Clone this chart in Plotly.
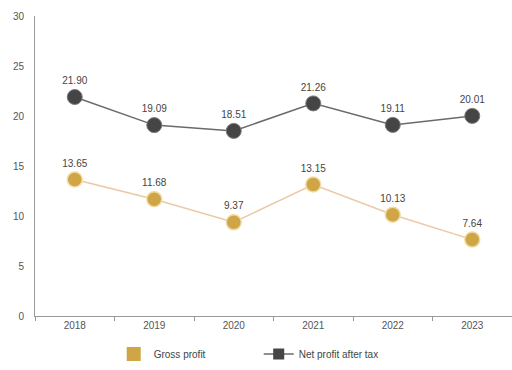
import plotly.graph_objects as go

years = ["2018", "2019", "2020", "2021", "2022", "2023"]
gross_profit = [13.65, 11.68, 9.37, 13.15, 10.13, 7.64]
net_profit_after_tax = [21.90, 19.09, 18.51, 21.26, 19.11, 20.01]

gold = "#CFA545"
gold_line = "#EBC9A6"
dark = "#454545"
dark_line = "#6A6A6A"
label_font = dict(family="Liberation Sans, Arial, sans-serif", size=10, color="#444444")

fig = go.Figure()

fig.add_trace(go.Scatter(
    x=years, y=gross_profit, mode="lines+markers+text",
    line=dict(color=gold_line, width=1.5),
    marker=dict(color=gold, size=15, line=dict(color="#F0DCA8", width=1.5)),
    text=[f"{v:.2f}" for v in gross_profit], textposition="top center",
    textfont=label_font, showlegend=False, cliponaxis=False,
))
fig.add_trace(go.Scatter(
    x=years, y=net_profit_after_tax, mode="lines+markers+text",
    line=dict(color=dark_line, width=1.5),
    marker=dict(color=dark, size=15, line=dict(color="#7A7A7A", width=1)),
    text=[f"{v:.2f}" for v in net_profit_after_tax], textposition="top center",
    textfont=label_font, showlegend=False, cliponaxis=False,
))

# legend entries
fig.add_trace(go.Scatter(
    x=[None], y=[None], mode="markers", name="Gross profit",
    marker=dict(symbol="square", color=gold, size=14),
))
fig.add_trace(go.Scatter(
    x=[None], y=[None], mode="lines+markers", name="Net profit after tax",
    line=dict(color=dark_line, width=1.5),
    marker=dict(symbol="square", color=dark, size=11),
))

fig.update_layout(
    width=512, height=370,
    margin=dict(l=35, r=0, t=16, b=54, autoexpand=False),
    paper_bgcolor="white", plot_bgcolor="white",
    font=label_font,
    legend=dict(orientation="h", x=0.165, xanchor="left", y=-0.127, yanchor="middle",
                font=dict(size=10, color="#444444"), itemwidth=30,
                entrywidth=100, entrywidthmode="pixels",
                traceorder="normal"),
)
fig.update_xaxes(
    type="category", range=[-0.5, 5.5], showline=True, linecolor="#999999", linewidth=1,
    ticks="outside", tickson="boundaries", ticklen=4, tickcolor="#999999",
    showgrid=False, tickfont=dict(size=10, color="#555555"),
)
fig.update_yaxes(
    range=[0, 30], dtick=5, showline=True, linecolor="#999999", linewidth=1,
    showgrid=False, zeroline=False, ticks="", ticklabelstandoff=8,
    tickfont=dict(size=10, color="#555555"),
)

fig.write_html("out.html")
